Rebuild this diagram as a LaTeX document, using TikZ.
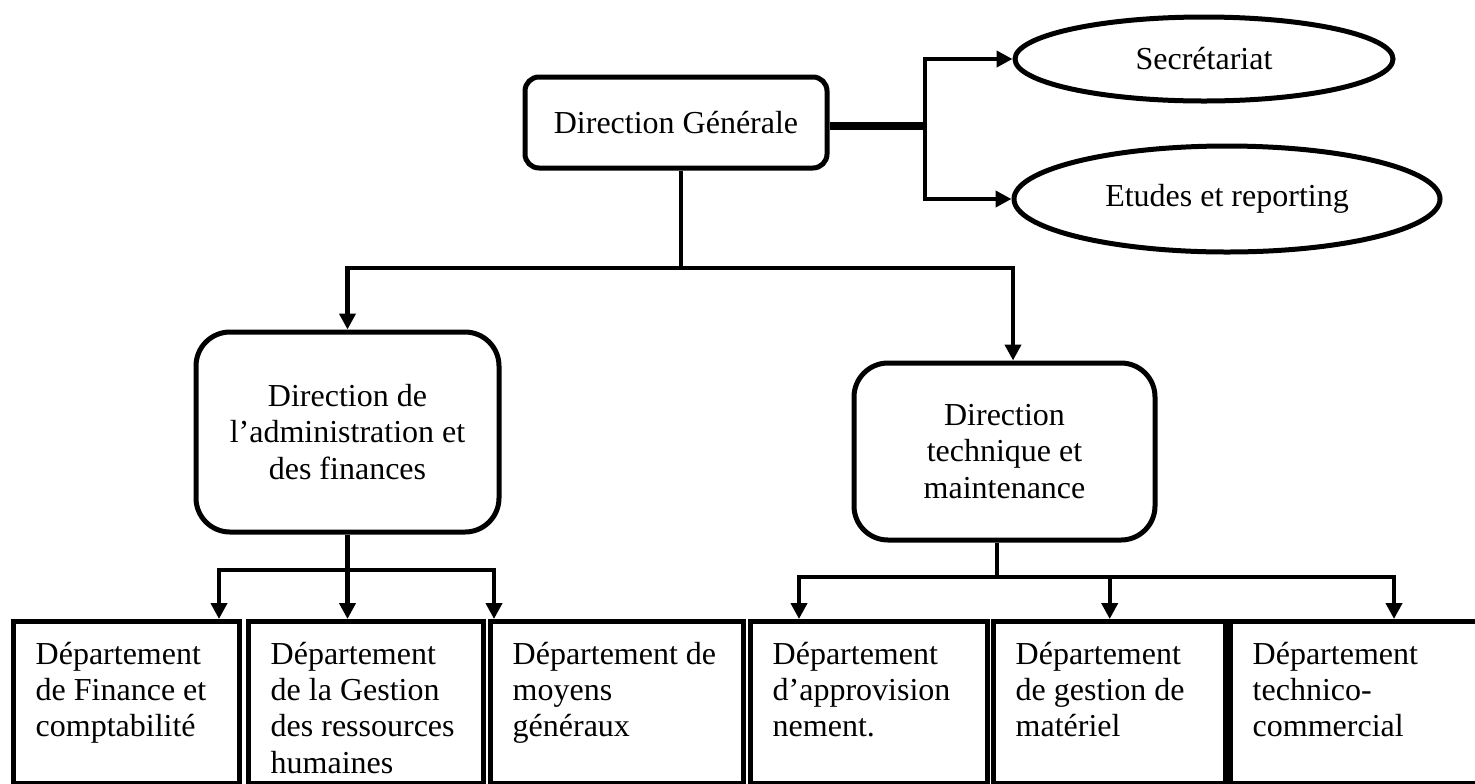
\documentclass[tikz,border=0pt]{standalone}
\usepackage{fontspec}
\setmainfont{Liberation Serif}
\newcommand{\nodefont}{\fontsize{16}{18.2}\selectfont}
\usetikzlibrary{arrows.meta,shapes.geometric}
\tikzset{
  txt/.style={font=\nodefont},
  dgbox/.style={txt, draw, line width=2.5pt, rounded corners=7pt, align=center, inner sep=0pt},
  dirbox/.style={txt, draw, line width=2.5pt, rounded corners=17pt, align=center, inner sep=0pt},
  ellbox/.style={txt, draw, ellipse, line width=2.5pt, inner sep=0pt},
  deptbox/.style={txt, draw, line width=2.7pt, anchor=north west, minimum height=81pt, inner xsep=11pt, inner ysep=8.5pt},
  conn/.style={line width=2.1pt},
  thickconn/.style={line width=3.8pt},
  tip/.tip={Triangle[length=8pt,width=8pt]}
}
\newcommand{\depttext}[2]{\parbox[t][64pt][t]{#1}{\raggedright\strut #2}}
\begin{document}
\begin{tikzpicture}[x=0.5pt,y=-0.5pt]
\useasboundingbox (0,0) rectangle (1475,783);

% top level
\node[dgbox, minimum width=151pt, minimum height=45.5pt] (dg) at (676,122.5) {Direction Générale};
\node[ellbox, minimum width=189pt, minimum height=42pt] (sec) at (1204,59) {Secrétariat};
\node[ellbox, minimum width=213pt, minimum height=53pt] (etu) at (1227,199) {Etudes et reporting};

% second level
\node[dirbox, minimum width=151.5pt, minimum height=100pt] (adm) at (347.5,432) {Direction de\\l’administration et\\des finances};
\node[dirbox, minimum width=150.5pt, minimum height=88.5pt] (tec) at (1004.5,451.5) {Direction\\technique et\\maintenance};

% departments
\node[deptbox, minimum width=113pt] (d1) at (11,619) {\depttext{91pt}{Département\\de Finance et\\comptabilité}};
\node[deptbox, minimum width=117.5pt] (d2) at (246,619) {\depttext{95.5pt}{Département\\de la Gestion\\des ressources\\humaines}};
\node[deptbox, minimum width=126.5pt] (d3) at (488,619) {\depttext{104.5pt}{Département de\\moyens\\généraux}};
\node[deptbox, minimum width=118.5pt] (d4) at (748,619) {\depttext{96.5pt}{Département\\d’approvision\\nement.}};
\node[deptbox, minimum width=116pt] (d5) at (991,619) {\depttext{94pt}{Département\\de gestion de\\matériel}};
\node[deptbox, minimum width=126pt] (d6) at (1228,619) {\depttext{104pt}{Département\\technico-\\commercial}};

% coordinates of the branch points
\coordinate (jr) at (925,126);
\coordinate (hb) at (681,268);
\coordinate (ht) at (1013,268);
\coordinate (a1) at (219,570);
\coordinate (a3) at (494,570);
\coordinate (tb) at (997,577);
\coordinate (t1) at (799,577);
\coordinate (t3) at (1394,577);

% connectors
\draw[thickconn] (dg.east |- jr) -- (jr);
\draw[conn,tip-tip] (sec.west) -| (jr) |- (etu.west);

\draw[conn] (dg.south -| hb) -- (hb);
\draw[conn,tip-tip] (adm.north) |- (ht) -- (ht |- tec.north);

\draw[conn,-tip] (adm.south) -- (adm.south |- d2.north);
\draw[conn,tip-tip] (a1 |- d1.north) -- (a1) -- (a3) -- (a3 |- d3.north);

\draw[conn] (tec.south -| tb) -- (tb);
\draw[conn,tip-tip] (t1 |- d4.north) -- (t1) -- (t3) -- (t3 |- d6.north);
\draw[conn,-tip] (d5.north |- t1) -- (d5.north);
\end{tikzpicture}
\end{document}
